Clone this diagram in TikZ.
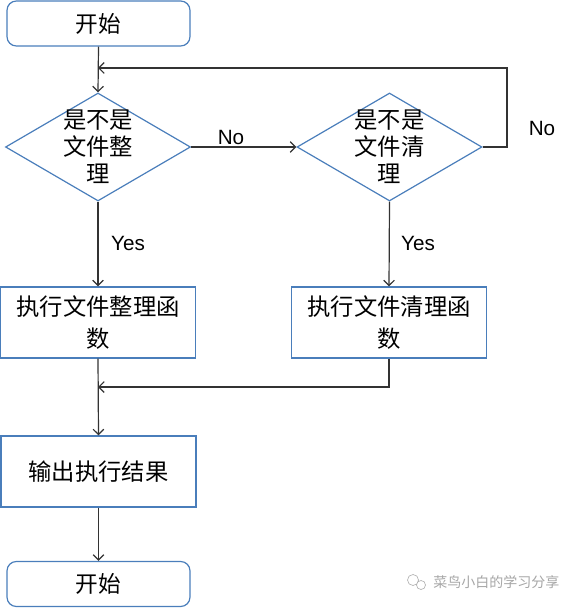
\documentclass[tikz,border=0pt]{standalone}
\usepackage{fontspec}
\setmainfont{Liberation Sans}
\newfontfamily\cjk{Noto Sans CJK SC}
\usetikzlibrary{shapes.geometric,arrows.meta}
\definecolor{boxblue}{HTML}{4A7EBB}
\definecolor{linegray}{HTML}{333333}
\tikzset{
  px/.style={x=0.75pt,y=-0.75pt},
  term/.style={draw=boxblue,line width=0.9pt,rounded corners=7pt,minimum width=137.25pt,minimum height=33.75pt,inner sep=0pt,font=\cjk\fontsize{17}{20}\selectfont},
  proc/.style={draw=boxblue,line width=0.9pt,minimum width=146.25pt,minimum height=53.25pt,inner sep=0pt,align=center,font=\cjk\fontsize{17.5}{24}\selectfont},
  dec/.style={draw=boxblue,line width=0.9pt,diamond,minimum width=138.75pt,minimum height=81pt,inner sep=0pt},
  dectext/.style={inner sep=0pt,align=center,font=\cjk\fontsize{17.5}{20.25}\selectfont},
  conn/.style={draw=linegray,line width=0.9pt,-{Straight Barb[length=4pt,width=8pt]}},
  lbl/.style={font=\fontsize{15.5}{18}\selectfont,inner sep=0pt},
}
\begin{document}
\begin{tikzpicture}[px]
\useasboundingbox (0,0) rectangle (579,609);
\node[term] (start) at (98.5,23.5) {开始};
\node[dec] (d1) at (98,147) {};
\node[dectext] (d1t) at (d1.center) {是不是\\文件整\\理};
\node[dec] (d2) at (389.5,147) {};
\node[dectext] (d2t) at (d2.center) {是不是\\文件清\\理};
\node[proc] (p1) at (98,322.5) {执行文件整理函\\数};
\node[proc] (p2) at (389,322.5) {执行文件清理函\\数};
\node[proc] (p3) at (98.5,471.5) {输出执行结果};
\node[term] (end) at (98.5,584) {开始};
\coordinate (loopR) at (507,68);
\coordinate (loopL) at (98,68);
\coordinate (merge) at (98,387);
\coordinate (mergeR) at (389,387);
\draw[conn] (start.south) -- (d1.north);
\draw[conn] (d1.east) -- (d2.west);
\draw[conn] (d2.east) -- (loopR |- d2.east) -- (loopR) -- (loopL);
\draw[conn] (d1.south) -- (p1.north);
\draw[conn] (d2.south) -- (p2.north);
\draw[conn] (p2.south) -- (mergeR) -- (merge);
\draw[conn] (p1.south) -- (p3.north);
\draw[conn] (p3.south) -- (end.north);
\node[lbl] (no1) at (231,137) {No};
\node[lbl] (no2) at (542,128) {No};
\node[lbl] (yes1) at (128,243) {Yes};
\node[lbl] (yes2) at (418,243) {Yes};
\node[inner sep=0pt,text=gray!70,font=\cjk\fontsize{10.5}{12}\selectfont,anchor=west] (wm) at (433,582) {菜鸟小白的学习分享};
\draw[gray!60,line width=0.5pt] (413,580) circle (5.5) (421,585) circle (4.5);
\end{tikzpicture}
\end{document}
